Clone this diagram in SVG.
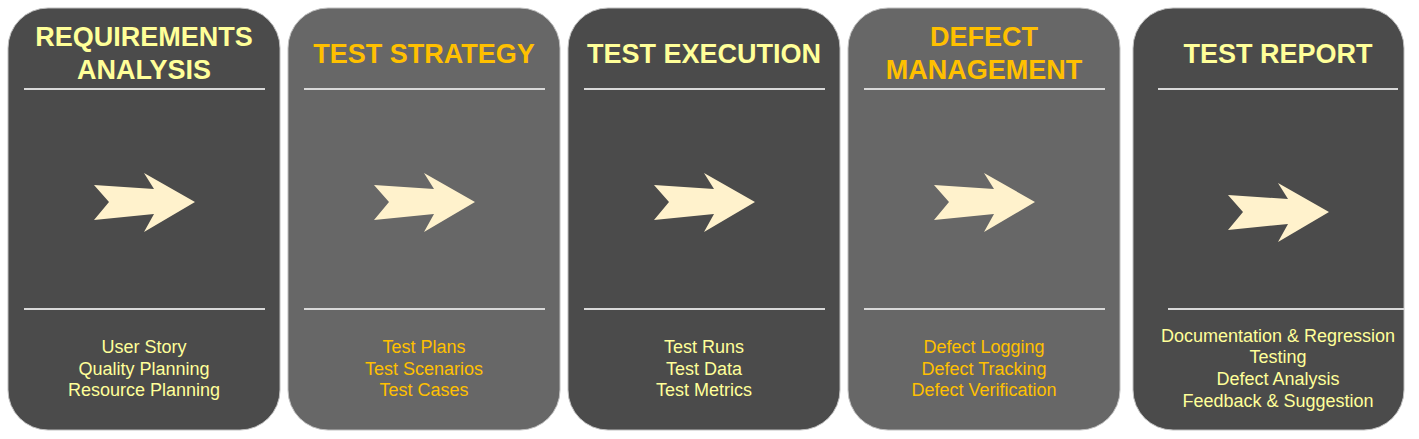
<svg xmlns="http://www.w3.org/2000/svg" width="1419" height="439" viewBox="0 0 1419 439">
<style>
.dark{fill:#4b4b4b;stroke:#bfbfbf;stroke-width:1}
.light{fill:#676767;stroke:#bfbfbf;stroke-width:1}
.sep{stroke:#d9d9d9;stroke-width:2}
.arrow{fill:#fff2cc}
.title{font-family:"Liberation Sans",Arial,sans-serif;font-weight:bold;font-size:27px;text-anchor:middle}
.body{font-family:"Liberation Sans",Arial,sans-serif;font-size:18px;text-anchor:middle}
.y{fill:#ffff99}
.o{fill:#ffc000}
</style>
<defs>
<path id="arr" d="M0,0 L60,4 L50,-12 L101,17 L50,47 L60,29 L0,35 L15,17 Z"/>
</defs>
<rect width="1419" height="439" fill="#ffffff"/>
<g id="requirements-analysis">
<rect class="dark" x="8" y="8" width="272" height="422" rx="40"/>
<text class="title y" x="144" y="46">REQUIREMENTS</text>
<text class="title y" x="144" y="79">ANALYSIS</text>
<line class="sep" x1="24" y1="89" x2="265" y2="89"/>
<use href="#arr" class="arrow" x="94" y="185"/>
<line class="sep" x1="24" y1="309" x2="265" y2="309"/>
<text class="body y" x="144" y="353">User Story</text>
<text class="body y" x="144" y="375">Quality Planning</text>
<text class="body y" x="144" y="396">Resource Planning</text>
</g>
<g id="test-strategy">
<rect class="light" x="288" y="8" width="272" height="422" rx="40"/>
<text class="title o" x="424" y="63">TEST STRATEGY</text>
<line class="sep" x1="304" y1="89" x2="545" y2="89"/>
<use href="#arr" class="arrow" x="374" y="185"/>
<line class="sep" x1="304" y1="309" x2="545" y2="309"/>
<text class="body o" x="424" y="353">Test Plans</text>
<text class="body o" x="424" y="375">Test Scenarios</text>
<text class="body o" x="424" y="396">Test Cases</text>
</g>
<g id="test-execution">
<rect class="dark" x="568" y="8" width="272" height="422" rx="40"/>
<text class="title y" x="704" y="63">TEST EXECUTION</text>
<line class="sep" x1="584" y1="89" x2="825" y2="89"/>
<use href="#arr" class="arrow" x="654" y="185"/>
<line class="sep" x1="584" y1="309" x2="825" y2="309"/>
<text class="body y" x="704" y="353">Test Runs</text>
<text class="body y" x="704" y="375">Test Data</text>
<text class="body y" x="704" y="396">Test Metrics</text>
</g>
<g id="defect-management">
<rect class="light" x="848" y="8" width="272" height="422" rx="40"/>
<text class="title o" x="984" y="46">DEFECT</text>
<text class="title o" x="984" y="79">MANAGEMENT</text>
<line class="sep" x1="864" y1="89" x2="1105" y2="89"/>
<use href="#arr" class="arrow" x="934" y="185"/>
<line class="sep" x1="864" y1="309" x2="1105" y2="309"/>
<text class="body o" x="984" y="353">Defect Logging</text>
<text class="body o" x="984" y="375">Defect Tracking</text>
<text class="body o" x="984" y="396">Defect Verification</text>
</g>
<g id="test-report">
<rect class="dark" x="1133" y="8" width="271" height="422" rx="40"/>
<text class="title y" x="1278" y="63">TEST REPORT</text>
<line class="sep" x1="1158" y1="89" x2="1398" y2="89"/>
<use href="#arr" class="arrow" x="1228" y="195"/>
<line class="sep" x1="1168" y1="309" x2="1404" y2="309"/>
<text class="body y" x="1278" y="342">Documentation &amp; Regression</text>
<text class="body y" x="1278" y="363">Testing</text>
<text class="body y" x="1278" y="385">Defect Analysis</text>
<text class="body y" x="1278" y="407">Feedback &amp; Suggestion</text>
</g>
<g id="connectors"></g>
</svg>
